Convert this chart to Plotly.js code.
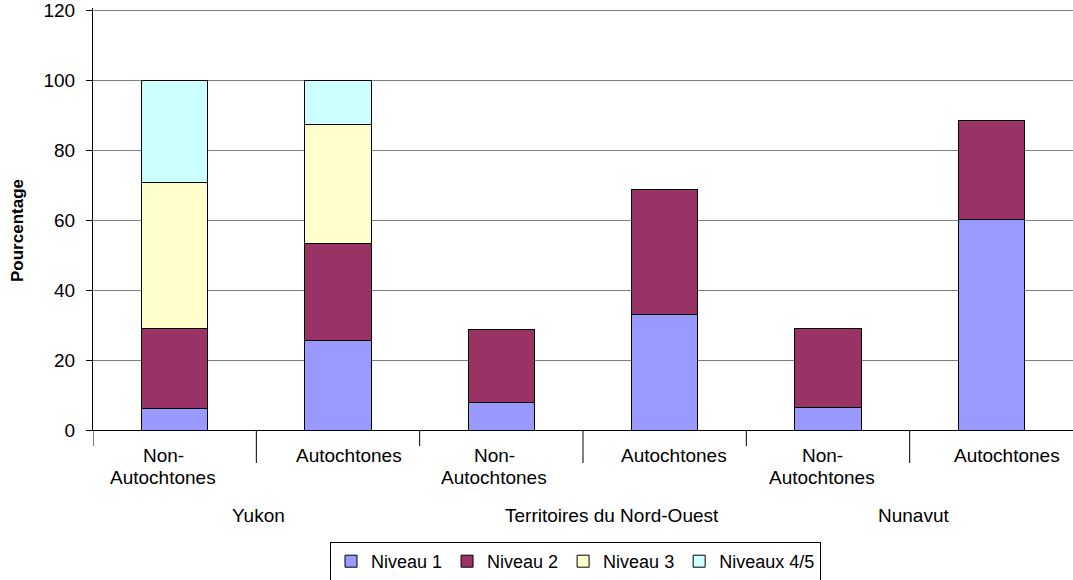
<!DOCTYPE html>
<html>
<head>
<meta charset="utf-8">
<script src="https://cdn.plot.ly/plotly-3.0.1.min.js"></script>
<style>
html,body{margin:0;padding:0;background:#fff;}
#chart{width:1073px;height:580px;}
</style>
</head>
<body>
<div id="chart"></div>
<script>
// ---- data ----
var categoryLines = [["Non-", "Autochtones"], ["Autochtones"], ["Non-", "Autochtones"], ["Autochtones"], ["Non-", "Autochtones"], ["Autochtones"]];
var groupLabels = ["Yukon", "Territoires du Nord-Ouest", "Nunavut"];
var seriesNames = ["Niveau 1", "Niveau 2", "Niveau 3", "Niveaux 4/5"];
var niveau1 = [6.2, 25.5, 7.9, 33.1, 6.3, 60.3];
var niveau2 = [22.9, 27.9, 20.9, 35.5, 22.6, 28.1];
var niveau3 = [41.7, 34.0, null, null, null, null];
var niveaux45 = [29.2, 12.6, null, null, null, null];
var yTitle = "Pourcentage";
var yTickVals = [0, 20, 40, 60, 80, 100, 120];

// ---- layout helpers ----
var W = 1073, H = 580;
var ML = 93, MR = 0, MT = 8, MB = 150;
var PW = W - ML - MR, PH = H - MT - MB;
function px2paperX(px){ return (px - ML) / PW; }
function py2paperY(py){ return (H - MB - py) / PH; }

var xIdx = categoryLines.map(function(_, i){ return i; });
var colors = ["#9999FF", "#993366", "#FFFFCC", "#CCFFFF"];
var values = [niveau1, niveau2, niveau3, niveaux45];
var font = "Liberation Sans, Arial, sans-serif";

var traces = values.map(function(v, k){
  return {
    type: "bar", x: xIdx, y: v, name: seriesNames[k],
    marker: {color: colors[k], line: {color: "#000000", width: 1}},
    hoverinfo: "skip"
  };
});

var catLabelX = [163, 349, 494, 674, 822, 1007];
var groupLabelX = [258, 612, 913];

var annotations = [];
categoryLines.forEach(function(lines, i){
  lines.forEach(function(t, j){
    annotations.push({
      text: t, xref: "paper", yref: "paper",
      x: px2paperX(catLabelX[i]), y: py2paperY(455 + j * 22),
      xanchor: "center", yanchor: "middle", showarrow: false,
      font: {family: font, size: 19, color: "#000"}
    });
  });
});
groupLabels.forEach(function(t, i){
  annotations.push({
    text: t, xref: "paper", yref: "paper",
    x: px2paperX(groupLabelX[i]), y: py2paperY(515),
    xanchor: "center", yanchor: "middle", showarrow: false,
    font: {family: font, size: 19, color: "#000"}
  });
});
annotations.push({
  text: "<b>" + yTitle + "</b>", xref: "paper", yref: "paper",
  x: px2paperX(17), y: py2paperY(231), textangle: -90,
  xanchor: "center", yanchor: "middle", showarrow: false,
  font: {family: font, size: 17, color: "#000"}
});

// tick divider lines below x axis
var shapes = [];
for (var k = 0; k < categoryLines.length; k++) {
  var longTick = (k % 2 === 1);
  shapes.push({
    type: "line", xref: "x", yref: "paper",
    x0: k - 0.5, x1: k - 0.5,
    y0: 0, y1: py2paperY(longTick ? 463 : 446),
    line: {color: "#000", width: 1}
  });
}

var layout = {
  width: W, height: H,
  margin: {l: ML, r: MR, t: MT, b: MB, pad: 0},
  paper_bgcolor: "#ffffff", plot_bgcolor: "#ffffff",
  barmode: "stack", bargap: 0.592,
  font: {family: font, size: 19, color: "#000"},
  showlegend: true,
  legend: {
    orientation: "h", xref: "container", yref: "container",
    x: 575.5 / W, xanchor: "center", y: (H - 542) / H, yanchor: "top",
    bordercolor: "#000", borderwidth: 1, bgcolor: "#fff",
    font: {family: font, size: 18, color: "#000"},
    traceorder: "normal", itemwidth: 30, itemclick: false
  },
  xaxis: {
    range: [-0.5, categoryLines.length - 0.5],
    showticklabels: false, ticks: "", showgrid: false,
    showline: true, linecolor: "#000", linewidth: 1, zeroline: false,
    fixedrange: true
  },
  yaxis: {
    range: [0, 120.6], tickmode: "array", tickvals: yTickVals,
    ticks: "outside", ticklen: 6, tickcolor: "#000", tickwidth: 1,
    ticklabelstandoff: 7, ticklabeloverflow: "allow",
    tickfont: {family: font, size: 19, color: "#000"},
    showgrid: true, gridcolor: "#808080", gridwidth: 1,
    showline: true, linecolor: "#000", linewidth: 1,
    zeroline: false, fixedrange: true
  },
  annotations: annotations,
  shapes: shapes
};

Plotly.newPlot("chart", traces, layout, {displayModeBar: false, staticPlot: true});
</script>
</body>
</html>
